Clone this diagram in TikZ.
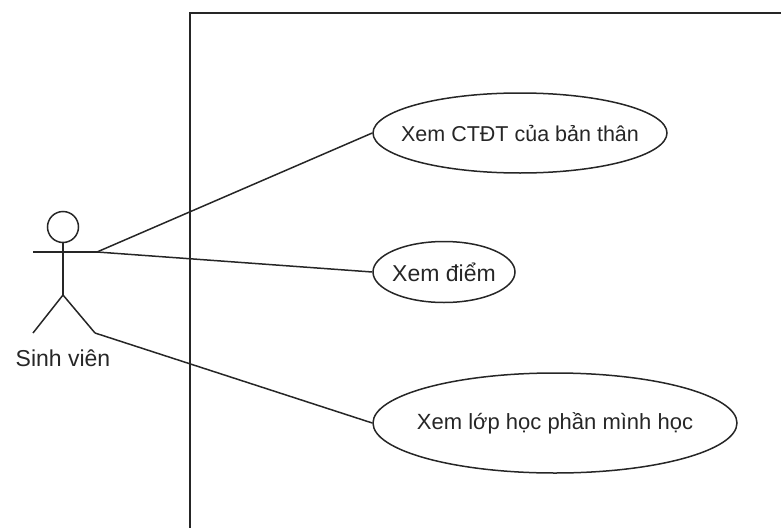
\documentclass[tikz,border=0pt]{standalone}
\usepackage{fontspec}
\setmainfont{Liberation Sans}
\usetikzlibrary{shapes.geometric}
\begin{document}
\begin{tikzpicture}[x=1pt,y=-1pt,
  ink/.style={draw=black!85,line width=1.5pt},
  usecase/.style={ink,ellipse,inner sep=0pt},
  caption/.style={text=black!85,font=\fontsize{#1}{#1}\selectfont},
  link/.style={ink}]
\useasboundingbox (0,0) rectangle (781,527);
% system boundary (extends past the right and bottom edges)
\draw[ink] (190,540) -- (190,13) -- (800,13);
% actor
\node[ink,circle,minimum size=31pt,inner sep=0pt] (head) at (63,227) {};
\coordinate (hip) at (63,295);
\coordinate (armL) at (33,252);
\coordinate (armR) at (97,252);
\coordinate (footL) at (33,333);
\coordinate (footR) at (95,333);
\draw[ink] (head.south) -- (hip);
\draw[ink] (armL) -- (armR);
\draw[ink] (footL) -- (hip) -- (footR);
\node[caption=23] (actor) at (63,358) {Sinh viên};
% use cases
\node[usecase,minimum width=294pt,minimum height=80pt] (uc1) at (520,133) {};
\node[caption=21.5] (uc1text) at (uc1.center) {Xem CTĐT của bản thân};
\node[usecase,minimum width=142pt,minimum height=61pt] (uc2) at (444,272) {};
\node[caption=23] (uc2text) at (uc2.center) {Xem điểm};
\node[usecase,minimum width=364pt,minimum height=100pt] (uc3) at (555,423) {};
\node[caption=22] (uc3text) at (uc3.center) {Xem lớp học phần mình học};
% associations
\draw[link] (armR) -- (uc1.west);
\draw[link] (armR) -- (uc2.west);
\draw[link] (footR) -- (uc3.west);
\end{tikzpicture}
\end{document}
